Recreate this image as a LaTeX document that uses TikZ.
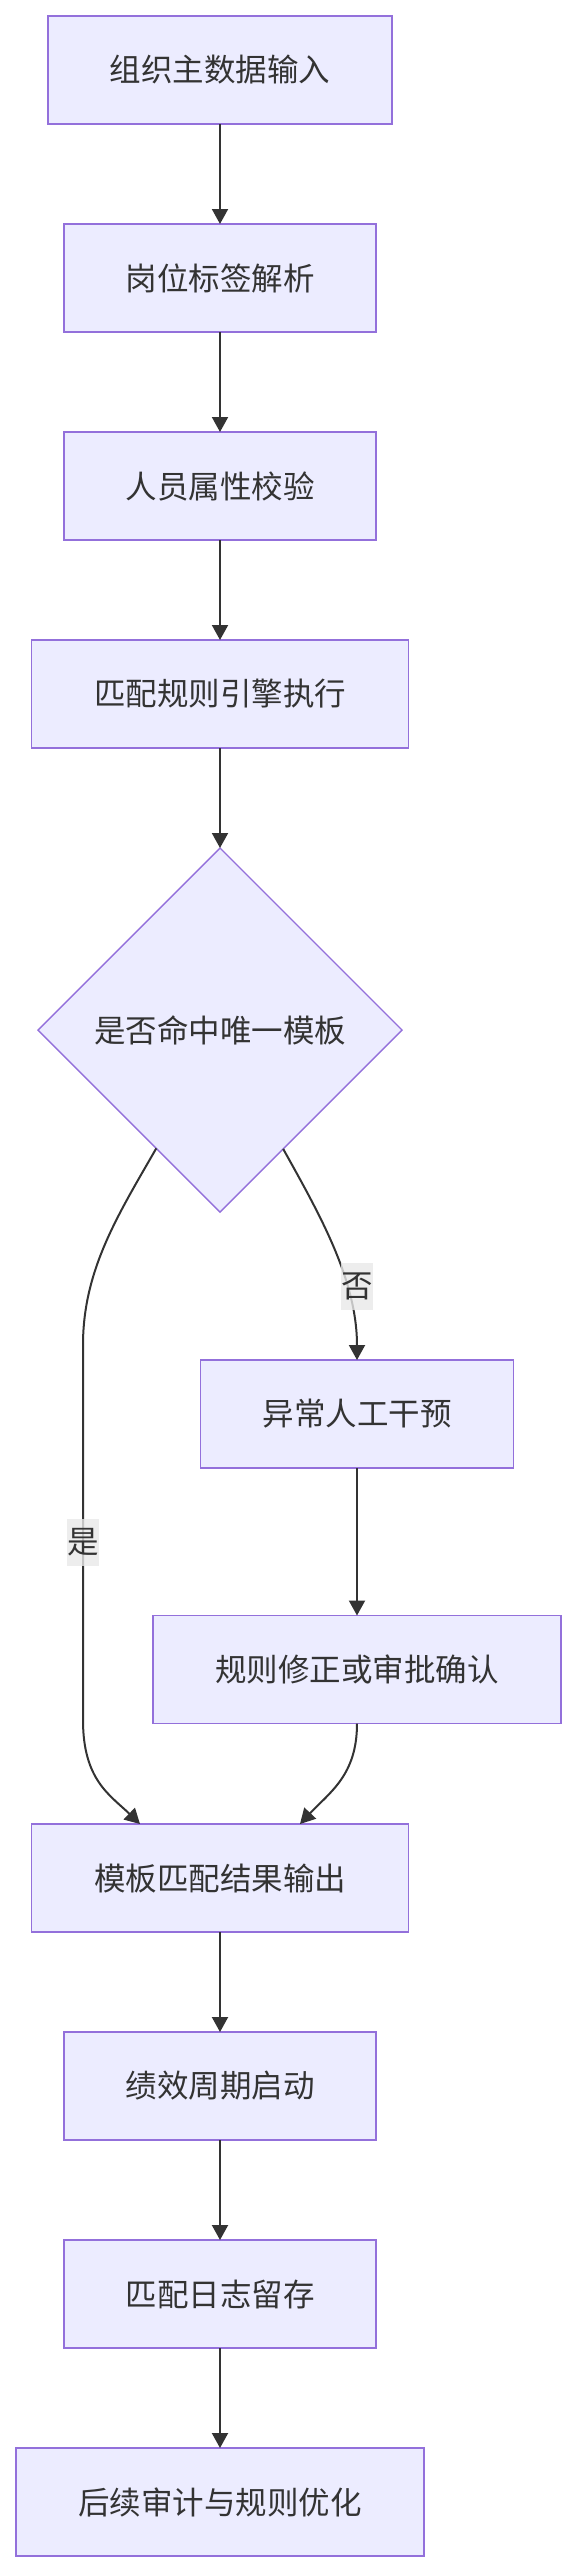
\documentclass[tikz,border=0pt]{standalone}
\usepackage{fontspec}
\newfontfamily\cjk{Noto Sans CJK SC}
\usetikzlibrary{arrows.meta,shapes.geometric,calc}
\definecolor{boxfill}{HTML}{ECECFF}
\definecolor{boxline}{HTML}{9370DB}
\definecolor{ink}{HTML}{333333}
\definecolor{lblbg}{HTML}{E8E8E8}
\begin{document}
\begin{tikzpicture}[x=1pt,y=-1pt,
  proc/.style={rectangle, draw=boxline, fill=boxfill, line width=1.6pt, minimum height=108pt, inner sep=0pt, outer sep=0pt, text=ink, font=\cjk\fontsize{31.5}{40}\selectfont},
  decide/.style={diamond, draw=boxline, fill=boxfill, line width=1.4pt, minimum width=364pt, minimum height=364pt, inner sep=0pt, outer sep=0pt, text=ink, font=\cjk\fontsize{31.5}{40}\selectfont},
  flow/.style={draw=ink, line width=2pt, -{Triangle[length=15pt,width=16pt]}},
  lbl/.style={fill=lblbg, fill opacity=0.8, text opacity=1, text=ink, inner sep=0pt, minimum width=31.7pt, minimum height=47pt, font=\cjk\fontsize{31.5}{40}\selectfont}
]
\useasboundingbox (0,0) rectangle (577,2572);
\node[proc, minimum width=344.5pt] (b1) at (220,70) {组织主数据输入};
\node[proc, minimum width=312.3pt] (b2) at (220,278) {岗位标签解析};
\node[proc, minimum width=312.3pt] (b3) at (220,486) {人员属性校验};
\node[proc, minimum width=377pt] (b4) at (220,694) {匹配规则引擎执行};
\node[decide] (dia) at (220,1030) {是否命中唯一模板};
\node[proc, minimum width=313pt] (b5) at (357,1414) {异常人工干预};
\node[proc, minimum width=408.5pt] (b6) at (357,1669.5) {规则修正或审批确认};
\node[proc, minimum width=377pt] (b7) at (220,1878) {模板匹配结果输出};
\node[proc, minimum width=312.3pt] (b8) at (220,2086) {绩效周期启动};
\node[proc, minimum width=312.3pt] (b9) at (220,2294) {匹配日志留存};
\node[proc, minimum width=408.5pt] (b10) at (220,2502) {后续审计与规则优化};

\draw[flow] (b1) -- (b2);
\draw[flow] (b2) -- (b3);
\draw[flow] (b3) -- (b4);
\draw[flow] (b4) -- (dia);
\draw[flow] (b5) -- (b6);
\draw[flow] (b7) -- (b8);
\draw[flow] (b8) -- (b9);
\draw[flow] (b9) -- (b10);

\coordinate (ys) at ($(dia.west)!0.65!(dia.south)$);
\coordinate (ns) at ($(dia.east)!0.653!(dia.south)$);
\coordinate (ye) at ([xshift=-80pt]b7.north);
\coordinate (ne) at ([xshift=80pt]b7.north);

\draw[flow] (ys) .. controls (118,1215) and (83,1270) .. (83,1345) -- (83,1720) .. controls (83,1780) and (110,1795) .. (ye);
\draw[flow] (ns) .. controls (320,1215) and (357,1280) .. (b5.north);
\draw[flow] (b6.south) .. controls (357,1775) and (330,1792) .. (ne);

\node[lbl] (ly) at (83,1542) {是};
\node[lbl] (ln) at (357,1286) {否};
\end{tikzpicture}
\end{document}
